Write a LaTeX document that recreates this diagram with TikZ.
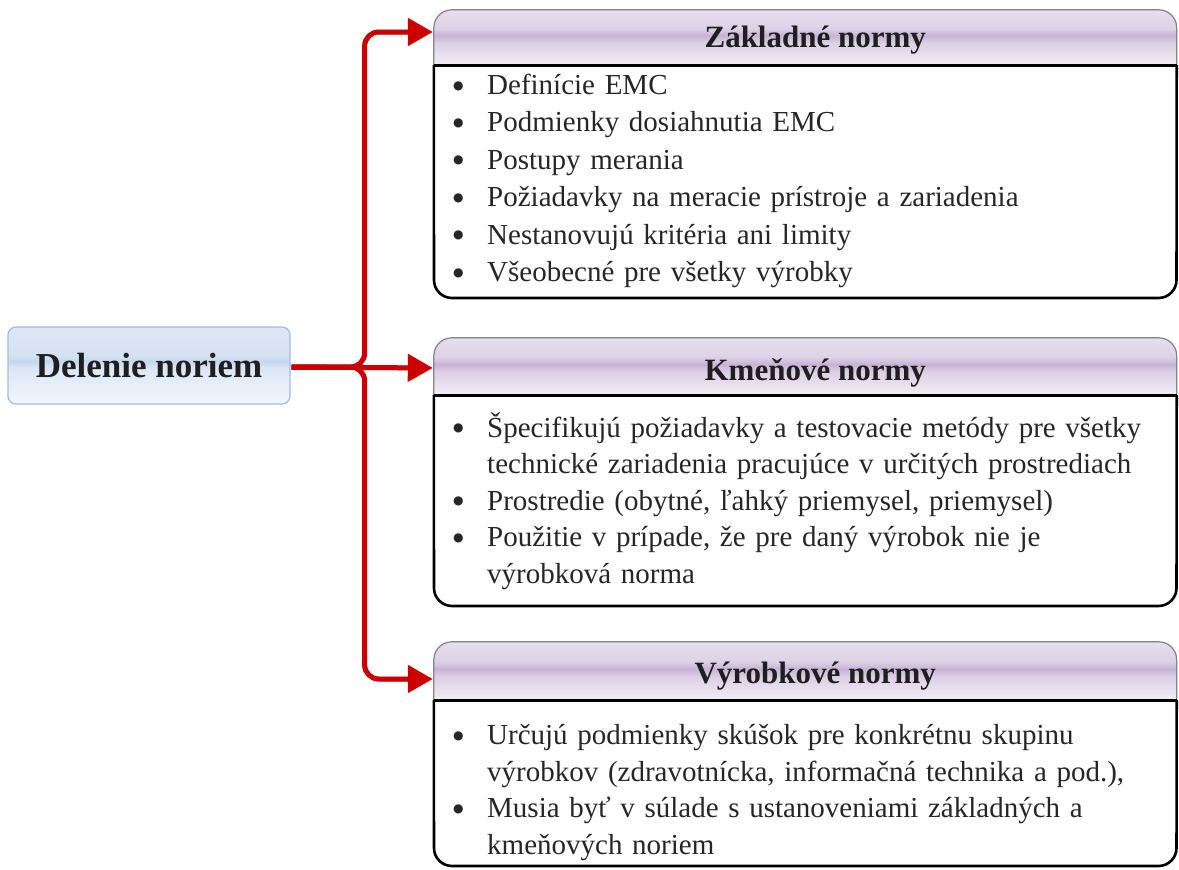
\documentclass[tikz,border=0pt]{standalone}
\usepackage{fontspec}
\setmainfont{Liberation Serif}
\newfontfamily\dotfont{DejaVu Sans}
\usetikzlibrary{arrows.meta,calc}

\definecolor{arrowred}{RGB}{204,0,0}
\definecolor{hdrTop}{RGB}{231,222,238}
\definecolor{hdrMid}{RGB}{221,209,230}
\definecolor{hdrBand}{RGB}{199,179,214}
\definecolor{hdrLow}{RGB}{220,208,229}
\definecolor{hdrBot}{RGB}{243,238,246}
\definecolor{hdrEdge}{RGB}{130,130,130}
\definecolor{rootTop}{RGB}{221,230,244}
\definecolor{rootMid}{RGB}{213,225,242}
\definecolor{rootBand}{RGB}{196,215,239}
\definecolor{rootLow}{RGB}{220,231,246}
\definecolor{rootBot}{RGB}{241,246,252}
\definecolor{rootLine}{RGB}{160,190,230}

% glossy fills: the path box spans 25bp (bottom) to 75bp (top)
\pgfdeclareverticalshading{headergloss}{100bp}{color(0bp)=(hdrBot); color(25bp)=(hdrBot); color(45bp)=(hdrLow); color(52bp)=(hdrBand); color(58bp)=(hdrMid); color(75bp)=(hdrTop); color(100bp)=(hdrTop)}
\pgfdeclareverticalshading{rootgloss}{100bp}{color(0bp)=(rootBot); color(25bp)=(rootBot); color(48bp)=(rootLow); color(53bp)=(rootBand); color(56bp)=(rootMid); color(75bp)=(rootTop); color(100bp)=(rootTop)}

% one bullet item with a hanging indent for wrapped lines
\newcommand\bl[1]{\hangindent=37pt\hangafter=1\makebox[37pt][l]{\hspace{3pt}\raisebox{5.5pt}{\dotfont\fontsize{12}{12}\selectfont ●}}#1\par}

\begin{document}
\begin{tikzpicture}[x=1pt,y=-1pt,
  root/.style={rounded corners=8pt, draw=rootLine, line width=1.3pt, shading=rootgloss,
    minimum width=282pt, minimum height=77pt, inner sep=0pt,
    font=\bfseries\fontsize{35}{40}\selectfont, text=black!88},
  hdr/.style={minimum width=742.5pt, inner sep=0pt},
  hdrtext/.style={inner sep=0pt, font=\bfseries\fontsize{31}{36}\selectfont, text=black!88},
  hdrline/.style={draw=hdrEdge, line width=1.2pt, rounded corners=18pt},
  bodyline/.style={draw=black, line width=2.6pt, rounded corners=18pt},
  bodytext/.style={anchor=base west, text width=725pt, align=left, inner sep=0pt, text=black!85},
  conn/.style={draw=arrowred, line width=5pt, rounded corners=14pt,
    -{Triangle[length=25pt,width=27pt]}},
  connshadow/.style={draw=black, draw opacity=0.3, line width=5pt, rounded corners=14pt,
    shorten >=20pt, xshift=3pt, yshift=-3.5pt}
]
\useasboundingbox (0,0) rectangle (1179,870);

% root node
\node[root] (root) at (149,365.5) {Delenie noriem};

% box headers (named, used as connector targets)
\node[hdr, minimum height=55pt] (hA) at (805.25,37.5) {};
\node[hdr, minimum height=57pt] (hB) at (805.25,366.5) {};
\node[hdr, minimum height=58pt] (hC) at (805.25,671) {};

% header fills, clipped to the rounded box outline
\begin{scope}
  \clip[rounded corners=18pt] (hA.north west) rectangle (1176.5,298);
  \shade[shading=headergloss] (hA.north west) rectangle (hA.south east);
\end{scope}
\begin{scope}
  \clip[rounded corners=18pt] (hB.north west) rectangle (1176.5,606);
  \shade[shading=headergloss] (hB.north west) rectangle (hB.south east);
\end{scope}
\begin{scope}
  \clip[rounded corners=18pt] (hC.north west) rectangle (1176.5,866);
  \shade[shading=headergloss] (hC.north west) rectangle (hC.south east);
\end{scope}

% header titles
\node[hdrtext] (tA) at ($(hA)+(10,3)$) {Základné normy};
\node[hdrtext] (tB) at ($(hB)+(10,6)$) {Kmeňové normy};
\node[hdrtext] (tC) at ($(hC)+(10,5)$) {Výrobkové normy};

% outlines
\draw[hdrline] (hA.south west) -- (hA.north west) -- (hA.north east) -- (hA.south east);
\draw[bodyline] (hA.south west) -- (434,298) -- (1176.5,298) -- (hA.south east);
\draw[bodyline, rounded corners=0pt] (hA.south west) -- (hA.south east);

\draw[hdrline] (hB.south west) -- (hB.north west) -- (hB.north east) -- (hB.south east);
\draw[bodyline] (hB.south west) -- (434,606) -- (1176.5,606) -- (hB.south east);
\draw[bodyline, rounded corners=0pt] (hB.south west) -- (hB.south east);

\draw[hdrline] (hC.south west) -- (hC.north west) -- (hC.north east) -- (hC.south east);
\draw[bodyline] (hC.south west) -- (434,866) -- (1176.5,866) -- (hC.south east);
\draw[bodyline, rounded corners=0pt] (hC.south west) -- (hC.south east);

% box contents
\node[bodytext, font=\fontsize{29}{37.4}\selectfont] (bA) at (450,94.5) {%
  \bl{Definície EMC}%
  \bl{Podmienky dosiahnutia EMC}%
  \bl{Postupy merania}%
  \bl{Požiadavky na meracie prístroje a zariadenia}%
  \bl{Nestanovujú kritéria ani limity}%
  \bl{Všeobecné pre všetky výrobky}};

\node[bodytext, font=\fontsize{29}{36.5}\selectfont] (bB) at (450,437) {%
  \bl{Špecifikujú požiadavky a testovacie metódy pre všetky\newline technické zariadenia pracujúce v určitých prostrediach}%
  \bl{Prostredie (obytné, ľahký priemysel, priemysel)}%
  \bl{Použitie v prípade, že pre daný výrobok nie je\newline výrobková norma}};

\node[bodytext, font=\fontsize{29}{36.7}\selectfont] (bC) at (450,744.5) {%
  \bl{Určujú podmienky skúšok pre konkrétnu skupinu\newline výrobkov (zdravotnícka, informačná technika a pod.),}%
  \bl{Musia byť v súlade s ustanoveniami základných a\newline kmeňových noriem}};

% connectors: shadows first, then the red arrows
\coordinate (start) at ($(root.east)+(1,1.5)$);
\draw[connshadow] (start) -- ++(73,0) |- ($(hA.west)+(-1,-5.5)$);
\draw[connshadow] (start) -- ($(hB.west)+(-1,1.5)$);
\draw[connshadow] (start) -- ++(73,0) |- ($(hC.west)+(-1,8)$);

\draw[conn] (start) -- ++(73,0) |- ($(hA.west)+(-1,-5.5)$);
\draw[conn] (start) -- ($(hB.west)+(-1,1.5)$);
\draw[conn] (start) -- ++(73,0) |- ($(hC.west)+(-1,8)$);
\end{tikzpicture}
\end{document}
